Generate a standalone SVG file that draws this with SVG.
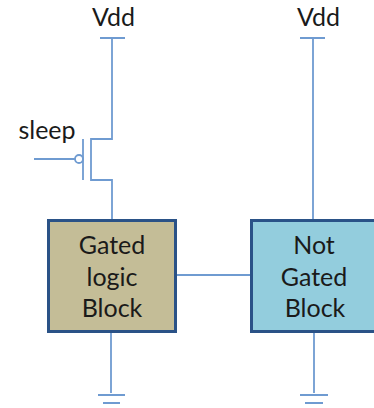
<svg xmlns="http://www.w3.org/2000/svg" width="374" height="408" viewBox="0 0 374 408">
<style>
.w{fill:none;stroke:#6f9bd1;stroke-width:1.8}
.b{stroke:#2a5287;stroke-width:3}
text{font-family:"Lato","Open Sans","Liberation Sans",sans-serif;font-size:25px;fill:#1a1a1a;text-anchor:middle}
</style>
<rect width="374" height="408" fill="#fff"/>
<g id="connectors">
<path class="w" d="M100 38H125M112 38V139H91V180H112V220"/>
<path class="w" d="M83 139V180"/>
<path class="w" d="M34 159H75"/>
<circle class="w" cx="79" cy="159" r="4" stroke-width="1.2" fill="#fff"/>
<path class="w" d="M300 38H325M313 38V220"/>
<path class="w" d="M176 275H251"/>
<path class="w" d="M111 332V393M98 395H125M103 403H120"/>
<path class="w" d="M314 332V393M300 395H328M305 403H323"/>
</g>
<g id="vdd1"><text x="113.500" y="26">Vdd</text></g>
<g id="vdd2"><text x="318.500" y="26">Vdd</text></g>
<g id="sleep"><text x="47" y="139">sleep</text></g>
<g id="gated"><rect class="b" x="48.500" y="220.500" width="127" height="111" fill="#c4bd97"/><text x="112" y="254">Gated</text><text x="112" y="286">logic</text><text x="112" y="317">Block</text></g>
<g id="notgated"><rect class="b" x="251.500" y="220.500" width="127" height="111" fill="#93cddd"/><text x="314" y="254">Not</text><text x="314" y="286">Gated</text><text x="315" y="317">Block</text></g>
</svg>
